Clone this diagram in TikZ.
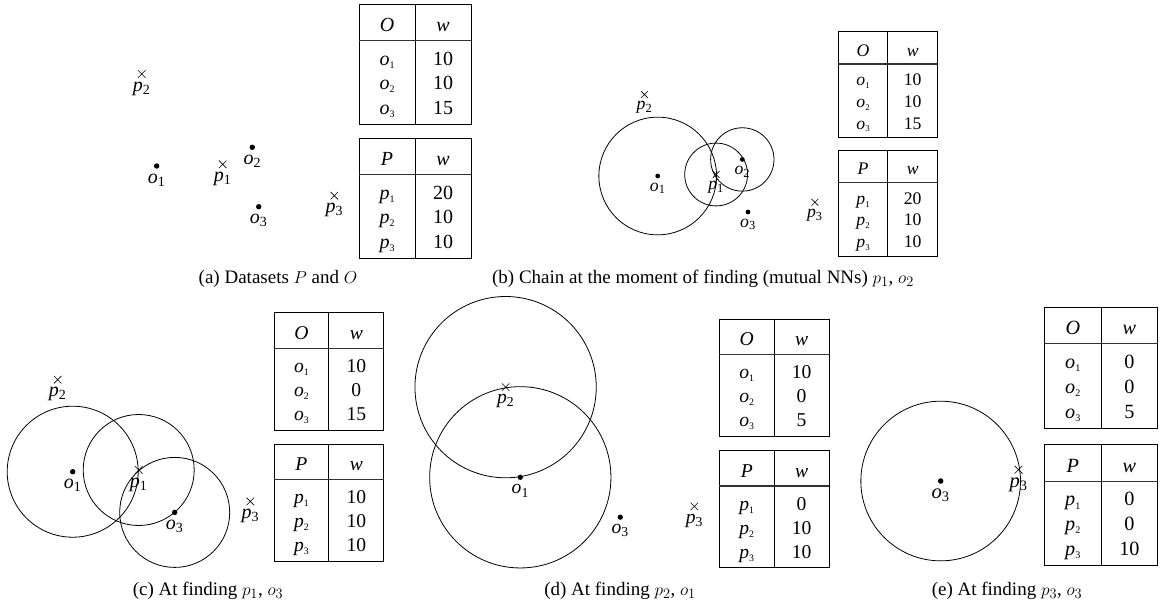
\documentclass[tikz,border=0pt]{standalone}
\usepackage{fontspec}
\setmainfont{Liberation Serif}
\usetikzlibrary{shapes.misc}
\tikzset{
  tabframe/.style={line width=0.9pt},
  tabrule/.style={line width=1.2pt, black!80},
  txt/.style={inner sep=0pt, anchor=base, font=\fontsize{20}{23}\selectfont},
  captxt/.style={inner sep=0pt, anchor=base, font=\fontsize{19}{22}\selectfont},
  lbl/.style={inner sep=0pt, anchor=base, font=\fontsize{20}{23}\selectfont},
  crossm/.style={cross out, draw, minimum size=7pt, inner sep=0pt, line width=0.6pt},
  dotm/.style={circle, fill=black, inner sep=0pt, minimum size=5.4pt},
  ring/.style={line width=0.8pt},
}
\newcommand\tsub[2]{\textit{#1}\raisebox{-0.35ex}{\fontsize{10}{10}\selectfont #2}}
\newcommand\ptp[4]{\node[crossm] (#1) at (#2,#3) {};
  \node[lbl] (#1l) at (#2,#3+17) {\textit{p}\textsubscript{#4}};}
\newcommand\pto[4]{\node[dotm] (#1) at (#2,#3) {};
  \node[lbl] (#1l) at (#2,#3+17) {\textit{o}\textsubscript{#4}};}
\newcommand\wtab[6]{%
  \draw[tabframe] (0,0) rectangle (112,120);
  \draw[tabframe] (56,0) -- (56,120);
  \draw[tabrule] (0,36.5) -- (112,36.5);
  \node[txt] (#1h) at (28,27.5) {\textit{#2}};
  \node[txt] (#1w) at (84,27.5) {\textit{w}};
  \node[txt] (#1a) at (28,61) {\tsub{#3}{1}};
  \node[txt] (#1b) at (28,85.5) {\tsub{#3}{2}};
  \node[txt] (#1c) at (28,110) {\tsub{#3}{3}};
  \node[txt] (#1x) at (84,61) {#4};
  \node[txt] (#1y) at (84,85.5) {#5};
  \node[txt] (#1z) at (84,110) {#6};
}
\begin{document}
\begin{tikzpicture}[x=1pt, y=-1pt]
\useasboundingbox (0,0) rectangle (1161,608);
% ---------- (a)
\begin{scope}[shift={(156.7,166)}, scale=1, transform shape]
  \ptp{ap2}{-15}{-92}{2}
  \pto{ao1}{0}{0}{1}
  \ptp{ap1}{66}{-1.7}{1}
  \pto{ao2}{95.6}{-18.7}{2}
  \pto{ao3}{102}{40.7}{3}
  \ptp{ap3}{177.6}{29.7}{3}
\end{scope}
\begin{scope}[shift={(359,4)}, scale=1, transform shape]
  \wtab{aO}{O}{o}{10}{10}{15}
\end{scope}
\begin{scope}[shift={(359,138)}, scale=1, transform shape]
  \wtab{aP}{P}{p}{20}{10}{10}
\end{scope}
\node[captxt] (capa) at (278,283) {(a) Datasets $P$ and $O$};
% ---------- (b)
\begin{scope}[shift={(657.7,176)}, scale=0.885, transform shape]
  \draw[ring] (0,0) circle[radius=66.5];
  \draw[ring] (66,-1.7) circle[radius=35.5];
  \draw[ring] (95.6,-18.7) circle[radius=35.8];
  \ptp{bp2}{-15}{-92}{2}
  \pto{bo1}{0}{0}{1}
  \ptp{bp1}{66}{-1.7}{1}
  \pto{bo2}{95.6}{-18.7}{2}
  \pto{bo3}{102}{40.7}{3}
  \ptp{bp3}{177.6}{29.7}{3}
\end{scope}
\begin{scope}[shift={(838.3,31.7)}, scale=0.885, transform shape]
  \wtab{bO}{O}{o}{10}{10}{15}
\end{scope}
\begin{scope}[shift={(838.3,150.3)}, scale=0.885, transform shape]
  \wtab{bP}{P}{p}{20}{10}{10}
\end{scope}
\node[captxt] (capb) at (703,283) {(b) Chain at the moment of finding (mutual NNs) $p_1$, $o_2$};
% ---------- (c)
\begin{scope}[shift={(72.7,471.7)}, scale=1, transform shape]
  \draw[ring] (0,0) circle[radius=65.5];
  \draw[ring] (66,-1.7) circle[radius=55.5];
  \draw[ring] (102,40.7) circle[radius=55];
  \ptp{cp2}{-15}{-92}{2}
  \pto{co1}{0}{0}{1}
  \ptp{cp1}{66}{-1.7}{1}
  \pto{co3}{102}{40.7}{3}
  \ptp{cp3}{177.6}{29.7}{3}
\end{scope}
\begin{scope}[shift={(274,312.7)}, scale=0.98, transform shape]
  \wtab{cO}{O}{o}{10}{0}{15}
\end{scope}
\begin{scope}[shift={(274,444)}, scale=0.98, transform shape]
  \wtab{cP}{P}{p}{10}{10}{10}
\end{scope}
\node[captxt] (capc) at (208,595) {(c) At finding $p_1$, $o_3$};
% ---------- (d)
\begin{scope}[shift={(520.3,477.3)}, scale=0.98, transform shape]
  \draw[ring] (-15,-92) circle[radius=92.5];
  \draw[ring] (0,0) circle[radius=92.5];
  \ptp{dp2}{-15}{-92}{2}
  \pto{do1}{0}{0}{1}
  \pto{do3}{102}{40.7}{3}
  \ptp{dp3}{177.6}{29.7}{3}
\end{scope}
\begin{scope}[shift={(719.3,319)}, scale=0.98, transform shape]
  \wtab{dO}{O}{o}{10}{0}{5}
\end{scope}
\begin{scope}[shift={(719.3,450.3)}, scale=0.98, transform shape]
  \wtab{dP}{P}{p}{0}{10}{10}
\end{scope}
\node[captxt] (capd) at (620,595) {(d) At finding $p_2$, $o_1$};
% ---------- (e)
\begin{scope}[shift={(835.6,439.1)}, scale=1.03, transform shape]
  \draw[ring] (102,40.7) circle[radius=77.5];
  \pto{eo3}{102}{40.7}{3}
  \ptp{ep3}{177.6}{29.7}{3}
\end{scope}
\begin{scope}[shift={(1044.5,307)}, scale=1.01, transform shape]
  \wtab{eO}{O}{o}{0}{0}{5}
\end{scope}
\begin{scope}[shift={(1044.5,444.3)}, scale=1.01, transform shape]
  \wtab{eP}{P}{p}{0}{0}{10}
\end{scope}
\node[captxt] (cape) at (1007,595) {(e) At finding $p_3$, $o_3$};
\end{tikzpicture}
\end{document}
